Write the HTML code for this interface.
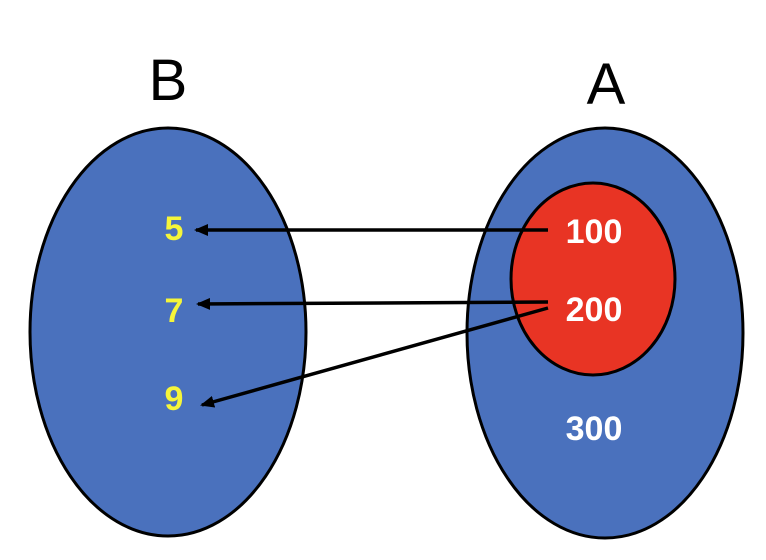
<!DOCTYPE html>
<html><head><meta charset="utf-8"><style>
html,body{margin:0;padding:0;background:#fff;}
svg{display:block;font-family:"Liberation Sans",sans-serif;}
</style></head><body>
<svg width="766" height="560" viewBox="0 0 766 560">
<defs>
<marker id="ah" markerWidth="14" markerHeight="12" refX="12" refY="6" orient="auto" markerUnits="userSpaceOnUse">
<path d="M0,0 L14,6 L0,12 Z" fill="#000"/>
</marker>
</defs>
<text x="168" y="100" font-size="58" text-anchor="middle" fill="#000">B</text>
<text x="606" y="104" font-size="58" text-anchor="middle" fill="#000">A</text>
<ellipse cx="168" cy="332" rx="138" ry="204" fill="#4a71bd" stroke="#000" stroke-width="3"/>
<ellipse cx="605" cy="333" rx="138" ry="205" fill="#4a71bd" stroke="#000" stroke-width="3"/>
<ellipse cx="593" cy="279" rx="82" ry="96" fill="#e83424" stroke="#000" stroke-width="3"/>
<g font-weight="bold" font-size="34" text-anchor="middle">
<text x="174" y="240" fill="#f5f53a">5</text>
<text x="174" y="322" fill="#f5f53a">7</text>
<text x="174" y="410" fill="#f5f53a">9</text>
<text x="594" y="243" fill="#fff">100</text>
<text x="594" y="321" fill="#fff">200</text>
<text x="594" y="440" fill="#fff">300</text>
</g>
<g stroke="#000" stroke-width="3.5">
<line x1="548" y1="230" x2="196" y2="230" marker-end="url(#ah)"/>
<line x1="548" y1="302" x2="198" y2="304" marker-end="url(#ah)"/>
<line x1="548" y1="308" x2="202" y2="405" marker-end="url(#ah)"/>
</g>
</svg>
</body></html>
